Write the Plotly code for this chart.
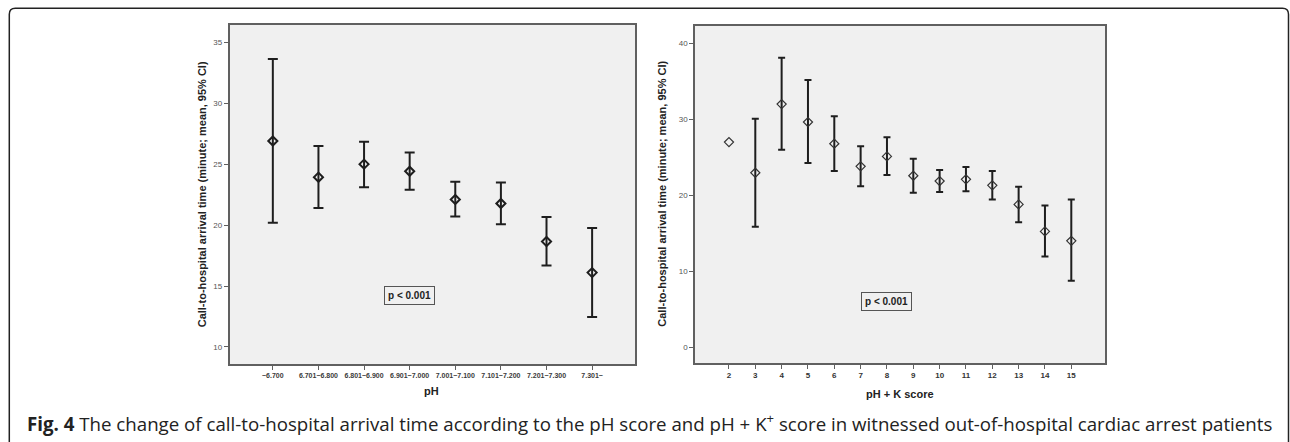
import plotly.graph_objects as go

# ---- data ----
ph_labels = ["~6.700", "6.701~6.800", "6.801~6.900", "6.901~7.000",
             "7.001~7.100", "7.101~7.200", "7.201~7.300", "7.301~"]
ph_mean = [26.9, 23.93, 25.0, 24.42, 22.1, 21.77, 18.65, 16.1]
ph_upper = [33.63, 26.48, 26.83, 25.96, 23.55, 23.5, 20.67, 19.77]
ph_lower = [20.2, 21.41, 23.11, 22.89, 20.7, 20.07, 16.68, 12.45]

k_scores = [2, 3, 4, 5, 6, 7, 8, 9, 10, 11, 12, 13, 14, 15]
k_mean = [27.03, 22.98, 32.04, 29.67, 26.81, 23.83, 25.14, 22.59, 21.89, 22.11, 21.32, 18.81, 15.25, 14.01]
k_upper = [None, 30.1, 38.15, 35.21, 30.42, 26.46, 27.65, 24.83, 23.34, 23.73, 23.21, 21.13, 18.68, 19.47]
k_lower = [None, 15.86, 26.02, 24.26, 23.21, 21.19, 22.68, 20.34, 20.44, 20.53, 19.45, 16.44, 11.95, 8.73]

p_text = "p < 0.001"
y_title = "Call-to-hospital arrival time (minute; mean, 95% CI)"
caption = ("<b>Fig. 4</b> The change of call-to-hospital arrival time according to the pH score and "
           "pH + K<sup>+</sup> score in witnessed out-of-hospital cardiac arrest patients")

W, H = 1290, 442
def px(x):
    return x / W
def py(y):
    return 1 - y / H

ph_idx = list(range(len(ph_labels)))
ph_plus = [u - m for u, m in zip(ph_upper, ph_mean)]
ph_minus = [m - l for m, l in zip(ph_mean, ph_lower)]

# points with a CI and points without one
kc = [(s, m, u, l) for s, m, u, l in zip(k_scores, k_mean, k_upper, k_lower) if u is not None]
kn = [(s, m) for s, m, u in zip(k_scores, k_mean, k_upper) if u is None]

LINE = "#1e1e1e"
AX = "#606060"
FONT = "Liberation Sans, Arial, sans-serif"

fig = go.Figure()
fig.add_trace(go.Scatter(
    x=ph_idx, y=ph_mean, mode="markers", xaxis="x", yaxis="y",
    marker=dict(symbol="diamond-open", size=7, color=LINE, line=dict(width=2, color=LINE)),
    error_y=dict(type="data", symmetric=False, array=ph_plus, arrayminus=ph_minus,
                 color=LINE, thickness=2, width=5),
    showlegend=False))
fig.add_trace(go.Scatter(
    x=[t[0] for t in kc], y=[t[1] for t in kc], mode="markers", xaxis="x2", yaxis="y2",
    marker=dict(symbol="diamond-open", size=7, color="#333333", line=dict(width=1.2, color="#333333")),
    error_y=dict(type="data", symmetric=False,
                 array=[t[2] - t[1] for t in kc], arrayminus=[t[1] - t[3] for t in kc],
                 color=LINE, thickness=2, width=3.5),
    showlegend=False))
fig.add_trace(go.Scatter(
    x=[t[0] for t in kn], y=[t[1] for t in kn], mode="markers", xaxis="x2", yaxis="y2",
    marker=dict(symbol="diamond-open", size=7, color="#333333", line=dict(width=1.2, color="#333333")),
    showlegend=False))

axis_common = dict(showline=True, linecolor=AX, linewidth=1.5, mirror=True,
                   showgrid=False, zeroline=False, ticks="outside", ticklen=4,
                   tickcolor=AX, tickwidth=1)

fig.update_layout(
    width=W, height=H, margin=dict(l=0, r=0, t=0, b=0),
    paper_bgcolor="white", plot_bgcolor="#f0f0f0",
    font=dict(family=FONT, color="#333333"),
    xaxis=dict(domain=[px(229.5), px(635)], range=[-0.95, 7.94],
               tickmode="array", tickvals=ph_idx, ticktext=["<b>" + t + "</b>" for t in ph_labels],
               tickfont=dict(size=7, color="#3a3a3a", family=FONT), anchor="y", **axis_common),
    yaxis=dict(domain=[py(364), py(25)], range=[8.6, 36.42],
               tickvals=[10, 15, 20, 25, 30, 35],
               tickfont=dict(size=8, color="#555555", family=FONT), anchor="x", **axis_common),
    xaxis2=dict(domain=[px(695), px(1105)], range=[0.71, 16.28],
                tickmode="array", tickvals=k_scores,
                ticktext=["<b>%d</b>" % s for s in k_scores],
                tickfont=dict(size=8, color="#333333", family=FONT),
                anchor="y2", **axis_common),
    yaxis2=dict(domain=[py(363), py(26)], range=[-2.1, 42.33],
                tickvals=[0, 10, 20, 30, 40],
                tickfont=dict(size=8, color="#555555", family=FONT), anchor="x2", **axis_common),
)

def ann(x, y, text, size, **kw):
    d = dict(x=x, y=y, xref="paper", yref="paper", text=text, showarrow=False,
             xanchor="center", yanchor="middle",
             font=dict(size=size, color="#222222", family=FONT))
    d.update(kw)
    return d

anns = [
    ann(px(202.3), py(194), "<b>" + y_title + "</b>", 11, textangle=-90),
    ann(px(661.7), py(194), "<b>" + y_title + "</b>", 11, textangle=-90),
    ann(px(431.7), py(390.7), "<b>pH</b>", 11),
    ann(px(900), py(394), "<b>pH + K score</b>", 11),
    dict(x=3, y=14.24, xref="x", yref="y", text="<b>" + p_text + "</b>", showarrow=False,
         xanchor="center", yanchor="middle",
         bordercolor="#555555", borderwidth=1, borderpad=3, bgcolor="#f0f0f0",
         font=dict(size=10, color="#222222", family=FONT)),
    dict(x=8, y=6.0, xref="x2", yref="y2", text="<b>" + p_text + "</b>", showarrow=False,
         xanchor="center", yanchor="middle",
         bordercolor="#555555", borderwidth=1, borderpad=3, bgcolor="#f0f0f0",
         font=dict(size=10, color="#222222", family=FONT)),
    ann(px(25), py(422), caption, 18.7, xanchor="left",
        font=dict(size=18.7, color="#222222", family="Open Sans, sans-serif")),
]
fig.update_layout(annotations=anns)

# outer rounded frame (cut at bottom)
x0, x1 = px(9.3), px(1288.5)
yt = py(8.3)
rx, ry = px(6), 6 / H
path = (f"M {x0},0 L {x0},{yt - ry} Q {x0},{yt} {x0 + rx},{yt} "
        f"L {x1 - rx},{yt} Q {x1},{yt} {x1},{yt - ry} L {x1},0")
fig.add_shape(type="path", path=path, xref="paper", yref="paper",
              line=dict(color="#222222", width=1.5))

fig.write_html("out.html", config={"displayModeBar": False},
               post_script="document.body.style.margin='0';document.body.style.overflow='hidden';")
